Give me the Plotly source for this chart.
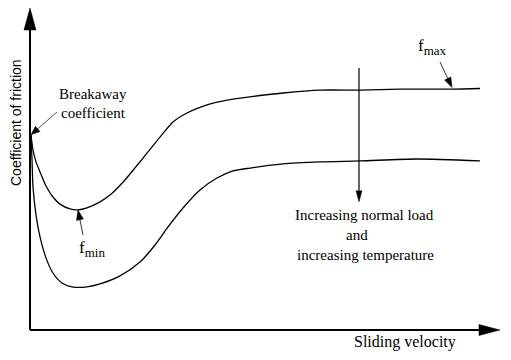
import math
import plotly.graph_objects as go

# ---- data (sliding velocity in arbitrary units 0..100, friction coefficient 0..1) ----
V_FMAX = [0.2, 0.64, 1.28, 2.13, 3.40, 4.89, 6.38, 8.51, 10.21, 12.13, 14.89, 17.02,
          20.21, 24.04, 27.66, 30.43, 33.40, 37.66, 41.91, 46.81, 53.83, 61.70,
          70.21, 78.72, 90.0, 95.74]
MU_FMAX = [0.606, 0.559, 0.522, 0.491, 0.447, 0.413, 0.391, 0.376, 0.373, 0.379,
           0.398, 0.419, 0.466, 0.534, 0.599, 0.646, 0.674, 0.699, 0.714, 0.724,
           0.736, 0.745, 0.745, 0.748, 0.748, 0.750]

V_LOWER = [0.2, 0.43, 0.64, 1.28, 2.13, 3.40, 4.89, 6.81, 8.94, 12.13, 14.89, 19.15,
           23.40, 26.60, 29.36, 32.55, 36.17, 39.79, 43.19, 46.81, 53.83, 61.70,
           70.21, 82.34, 95.74]
MU_LOWER = [0.606, 0.528, 0.444, 0.357, 0.289, 0.224, 0.177, 0.146, 0.134, 0.134,
            0.143, 0.168, 0.211, 0.264, 0.320, 0.379, 0.435, 0.472, 0.494, 0.503,
            0.516, 0.522, 0.525, 0.531, 0.525]

X_LABEL = "Sliding velocity"
Y_LABEL = "Coefficient of friction"

W, H = 511, 360
X_RANGE = [-6.383, 102.34]
Y_RANGE = [-0.09317, 1.02484]


def to_px(v, mu):
    x = (v - X_RANGE[0]) / (X_RANGE[1] - X_RANGE[0]) * W
    y = H - (mu - Y_RANGE[0]) / (Y_RANGE[1] - Y_RANGE[0]) * H
    return x, y


def paper(px, py):
    return px / W, 1 - py / H


def head_path(tip, tail, length, half):
    tx, ty = tip
    dx, dy = tx - tail[0], ty - tail[1]
    n = math.hypot(dx, dy)
    ux, uy = dx / n, dy / n
    bx, by = tx - ux * length, ty - uy * length
    p1 = (bx - uy * half, by + ux * half)
    p2 = (bx + uy * half, by - ux * half)
    pts = [paper(*tip), paper(*p1), paper(*p2)]
    return "M{},{} L{},{} L{},{} Z".format(*[c for p in pts for c in p]), (bx, by)


shapes = []


def arrow(tail, tip, length, half, width, color="black", headcolor="black"):
    path, base = head_path(tip, tail, length, half)
    x0, y0 = paper(*tail)
    x1, y1 = paper(*base)
    shapes.append(dict(type="line", xref="paper", yref="paper", x0=x0, y0=y0, x1=x1, y1=y1,
                       line=dict(color=color, width=width)))
    shapes.append(dict(type="path", xref="paper", yref="paper", path=path,
                       fillcolor=headcolor, line=dict(color=headcolor, width=0.5)))


# axes with arrow heads
origin = to_px(0, 0)
arrow(origin, to_px(0, 1.0), 22, 6, 2)
arrow(origin, to_px(100, 0), 21, 5.5, 2)

# annotation arrows
arrow((57, 112), to_px(V_FMAX[0], MU_FMAX[0]), 9, 3.5, 1, color="#555555")
arrow((83, 235), to_px(V_FMAX[8], MU_FMAX[8]), 10, 3.5, 1, color="#333333")
arrow((440, 62), (452, 87.5), 10, 3.5, 1, color="#333333")
arrow(to_px(70.0, 0.814), to_px(70.0, 0.398), 11, 3, 1.2)

fig = go.Figure()
line_style = dict(color="black", width=1.3, shape="spline", smoothing=0.7)
fig.add_trace(go.Scatter(x=V_FMAX, y=MU_FMAX, mode="lines", line=line_style,
                         hoverinfo="skip", showlegend=False))
fig.add_trace(go.Scatter(x=V_LOWER, y=MU_LOWER, mode="lines", line=line_style,
                         hoverinfo="skip", showlegend=False))

SERIF = "Liberation Serif, Times New Roman, serif"
serif = dict(family=SERIF, size=15, color="black")
sans = dict(family="Liberation Sans, Arial, sans-serif", size=14, color="black")


def text(px, py, s, font=serif, angle=0):
    x, y = paper(px, py)
    return dict(x=x, y=y, xref="paper", yref="paper", text=s, showarrow=False,
                font=font, textangle=angle, xanchor="center", yanchor="middle")


def fsub(sub):
    return "f<sub><span style='font-size:13px'>" + sub + "</span></sub>"


annotations = [
    text(93, 94, "Breakaway"),
    text(93, 113, "coefficient"),
    text(92, 249, fsub("min"), font=dict(serif, size=17)),
    text(432, 47, fsub("max"), font=dict(serif, size=17)),
    text(364, 215, "Increasing normal load"),
    text(357, 235, "and"),
    text(365, 255, "increasing temperature"),
    text(405, 342, X_LABEL, font=dict(serif, size=16)),
    text(16, 123, Y_LABEL, font=sans, angle=-90),
]

fig.update_layout(
    width=W, height=H,
    margin=dict(l=0, r=0, t=0, b=0),
    paper_bgcolor="white", plot_bgcolor="white",
    xaxis=dict(range=X_RANGE, visible=False, fixedrange=True),
    yaxis=dict(range=Y_RANGE, visible=False, fixedrange=True),
    shapes=shapes,
    annotations=annotations,
)

fig.write_html("out.html", config={"displayModeBar": False},
               post_script="document.body.style.margin='0';document.body.style.overflow='hidden';")
